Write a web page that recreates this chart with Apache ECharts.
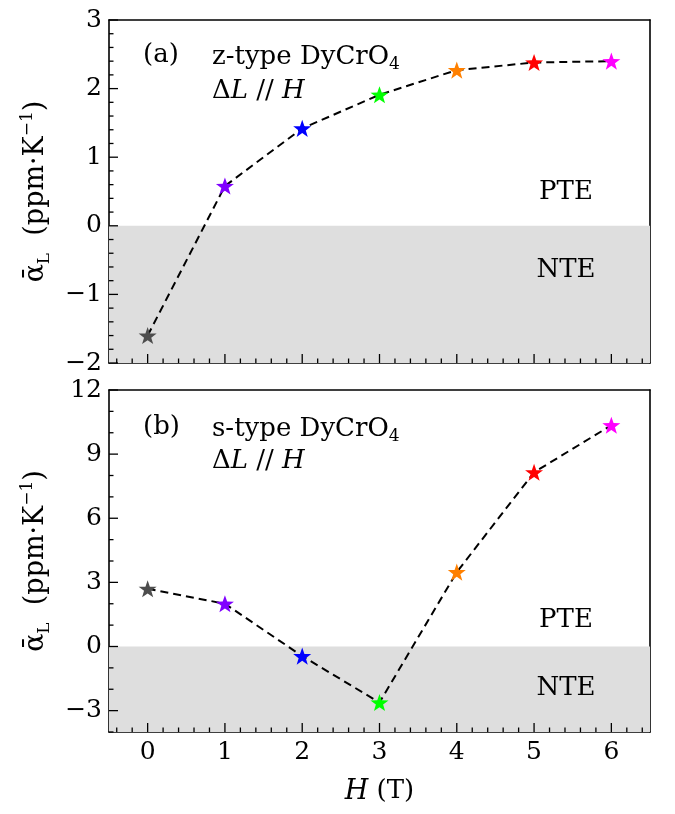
<!DOCTYPE html>
<html><head><meta charset="utf-8">
<script src="https://cdn.jsdelivr.net/npm/echarts@6/dist/echarts.min.js"></script>
<style>html,body{margin:0;padding:0;background:#fff}#c{width:675px;height:814px}</style>
</head><body><div id="c"></div>
<script>
// ---- data ----
const fieldH = [0, 1, 2, 3, 4, 5, 6];
const zType = [-1.60, 0.58, 1.42, 1.91, 2.27, 2.38, 2.40];
const sType = [2.70, 2.00, -0.45, -2.62, 3.48, 8.15, 10.35];
const pointColors = ['#4d4d4d', '#8000ff', '#0000ff', '#00ff00', '#ff8000', '#ff0000', '#ff00ff'];
const xTicks = [0, 1, 2, 3, 4, 5, 6];
const yTicksTop = [-2, -1, 0, 1, 2, 3];
const yTicksBottom = [-3, 0, 3, 6, 9, 12];
const xRange = [-0.5, 6.5];
const yRangeTop = [-2, 3];
const yRangeBottom = [-4, 12];

// minor tick positions (axis decoration)
function minorVals(lo, hi, step, skip) {
  const out = [];
  const n = Math.round((hi - lo) / step);
  for (let i = 0; i <= n; i++) {
    const v = +(lo + i * step).toFixed(6);
    if (!skip.some(function (s) { return Math.abs(s - v) < 1e-6; })) out.push(v);
  }
  return out;
}
const xMinor = minorVals(-0.4, 6.4, 0.2, xTicks);
const yMinorTop = minorVals(-1.8, 2.8, 0.2, yTicksTop);
const yMinorBottom = minorVals(-4, 12, 1, yTicksBottom);

const FONT = 'DejaVu Serif';
const fmt = function (v) { return v < 0 ? '\u2212' + Math.abs(v) : String(v); };
const lineW = 1.6;

function xAxes(grid, labels, name) {
  return [
    { gridIndex: grid, type: 'value', min: xRange[0], max: xRange[1], position: 'bottom',
      axisLine: { onZero: false, lineStyle: { color: '#000', width: lineW } },
      axisTick: { show: false },
      axisLabel: { show: labels, customValues: xTicks, fontFamily: FONT, fontSize: 25, color: '#000', margin: 8, formatter: fmt },
      splitLine: { show: false },
      name: name || '', nameLocation: 'middle', nameGap: 46,
      nameTextStyle: { fontFamily: FONT, fontSize: 26, color: '#000',
        rich: { i: { fontFamily: FONT, fontStyle: 'italic', fontSize: 27, color: '#000' },
                r: { fontFamily: FONT, fontSize: 26, color: '#000' } } } },
    { gridIndex: grid, type: 'value', min: xRange[0], max: xRange[1], position: 'top',
      axisLine: { onZero: false, lineStyle: { color: '#000', width: lineW } },
      axisTick: { show: false }, axisLabel: { show: false }, splitLine: { show: false } }
  ];
}
const yName = '{a|\u1FB1}{s|L}{a|  (ppm\u00B7K}{p|\u22121}{a|)}';
const yNameStyle = { fontFamily: FONT, color: '#000',
  rich: { a: { fontFamily: FONT, fontSize: 27, lineHeight: 34, color: '#000' },
          s: { fontFamily: FONT, fontSize: 17, lineHeight: 17, verticalAlign: 'bottom', color: '#000' },
          p: { fontFamily: FONT, fontSize: 17, lineHeight: 17, verticalAlign: 'top', color: '#000' } } };
function yAxes(grid, range, ticks) {
  return [
    { gridIndex: grid, type: 'value', min: range[0], max: range[1], position: 'left',
      axisLine: { onZero: false, lineStyle: { color: '#000', width: lineW } },
      axisTick: { show: false },
      axisLabel: { customValues: ticks, fontFamily: FONT, fontSize: 25, color: '#000', margin: 7, formatter: fmt },
      splitLine: { show: false },
      name: yName, nameLocation: 'middle', nameGap: 56, nameRotate: 90, nameTextStyle: yNameStyle },
    { gridIndex: grid, type: 'value', min: range[0], max: range[1], position: 'right',
      axisLine: { onZero: false, lineStyle: { color: '#000', width: lineW } },
      axisTick: { show: false }, axisLabel: { show: false }, splitLine: { show: false } }
  ];
}

const star = 'path://M0,-10L2.35,-3.24L9.51,-3.09L3.8,1.24L5.88,8.09L0,4L-5.88,8.09L-3.8,1.24L-9.51,-3.09L-2.35,-3.24Z';
function mkSeries(vals, xi, yi, yMin) {
  return {
    type: 'line', xAxisIndex: xi, yAxisIndex: yi,
    data: fieldH.map(function (h, i) { return { value: [h, vals[i]], itemStyle: { color: pointColors[i] } }; }),
    symbol: star, symbolSize: 18, symbolKeepAspect: true,
    lineStyle: { color: '#000', width: 2, type: [8, 5] },
    z: 3, animation: false,
    markArea: { silent: true, itemStyle: { color: '#dedede' },
      data: [[{ yAxis: 0 }, { yAxis: yMin }]] }
  };
}

const txt = { fontFamily: FONT, fontSize: 26, fill: '#000' };
function label(x, y, rich, text, align) {
  return { type: 'text', x: x, y: y, z: 10,
    style: Object.assign({}, txt, { text: text, textAlign: align || 'left', textVerticalAlign: 'middle', rich: rich }) };
}
const annRich = {
  n: { fontFamily: FONT, fontSize: 26, lineHeight: 32, fill: '#000' },
  i: { fontFamily: FONT, fontStyle: 'italic', fontSize: 26, lineHeight: 32, fill: '#000' },
  s: { fontFamily: FONT, fontSize: 17, lineHeight: 17, verticalAlign: 'bottom', fill: '#000' }
};
const texts = [
  label(143, 55, annRich, '{n|(a)}'),
  label(212, 57, annRich, '{n|z-type DyCrO}{s|4}'),
  label(212, 91, annRich, '{n|\u0394}{i|L} {n|//} {i|H}'),
  label(566, 192, annRich, '{n|PTE}', 'center'),
  label(566, 270, annRich, '{n|NTE}', 'center'),
  label(143, 427, annRich, '{n|(b)}'),
  label(212, 429, annRich, '{n|s-type DyCrO}{s|4}'),
  label(212, 461, annRich, '{n|\u0394}{i|L} {n|//} {i|H}'),
  label(566, 620, annRich, '{n|PTE}', 'center'),
  label(566, 688, annRich, '{n|NTE}', 'center')
];

const chart = echarts.init(document.getElementById('c'), null, { renderer: 'canvas' });
chart.setOption({
  animation: false,
  backgroundColor: '#fff',
  grid: [
    { left: 109, top: 20, width: 541, height: 343 },
    { left: 109, top: 390, width: 541, height: 342 }
  ],
  xAxis: xAxes(0, false).concat(xAxes(1, true, '{i|H} {r|(T)}')),
  yAxis: yAxes(0, yRangeTop, yTicksTop).concat(yAxes(1, yRangeBottom, yTicksBottom)),
  series: [
    mkSeries(zType, 0, 0, yRangeTop[0]),
    mkSeries(sType, 2, 2, yRangeBottom[0])
  ],
  graphic: texts
});

// inward tick marks, placed through the axes' scales via convertToPixel
const tickEls = [];
[
  { xi: 0, yi: 0, yr: yRangeTop, yt: yTicksTop, ym: yMinorTop },
  { xi: 2, yi: 2, yr: yRangeBottom, yt: yTicksBottom, ym: yMinorBottom }
].forEach(function (pn) {
  const finder = { xAxisIndex: pn.xi, yAxisIndex: pn.yi };
  function add(vals, dim, len) {
    vals.forEach(function (v) {
      const p = chart.convertToPixel(finder, dim === 'x' ? [v, pn.yr[0]] : [xRange[0], v]);
      if (!p) return;
      const shape = dim === 'x'
        ? { x1: p[0], y1: p[1], x2: p[0], y2: p[1] - len }
        : { x1: p[0], y1: p[1], x2: p[0] + len, y2: p[1] };
      tickEls.push({ type: 'line', shape: shape, z: 100, silent: true,
        style: { stroke: '#000', lineWidth: 1.3 } });
    });
  }
  add(xTicks, 'x', 9);
  add(xMinor, 'x', 4.5);
  add(pn.yt, 'y', 9);
  add(pn.ym, 'y', 4.5);
});
chart.setOption({ graphic: texts.concat(tickEls) });
</script></body></html>
